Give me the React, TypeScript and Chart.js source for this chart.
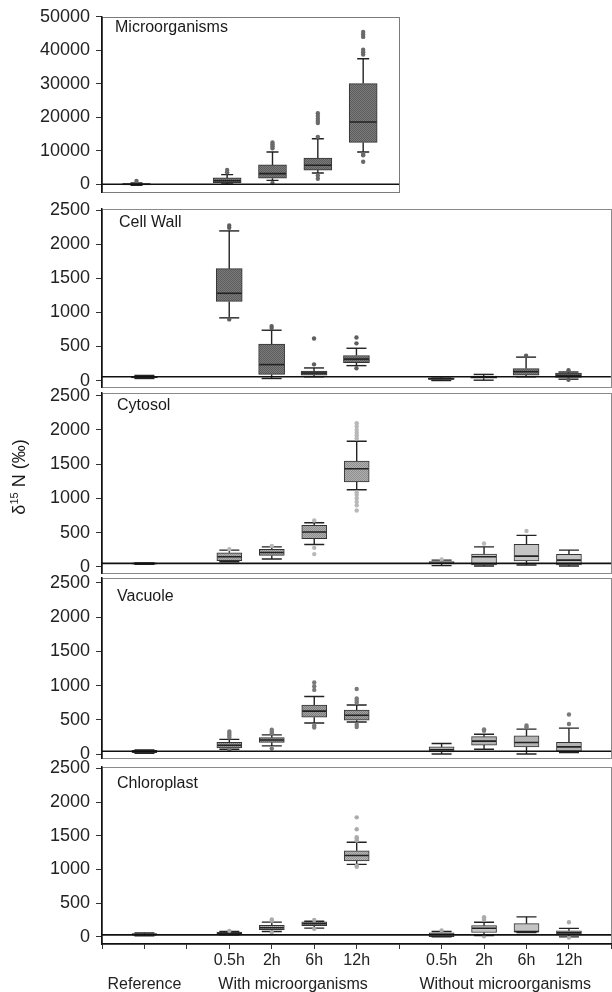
import { useEffect, useRef } from 'react';
import { Chart, registerables } from 'chart.js';

Chart.register(...registerables);

const FONT = '"Liberation Sans", Arial, Helvetica, sans-serif';
Chart.defaults.font.family = FONT;

const CW = 625;
const CH = 992;

// ---------- categories / axis labels ----------
const xTickValues = [0, 1, 2, 3, 4, 5, 6, 7, 8, 9, 10, 11, 12];
const xTickLabels = ['', '', '', '0.5h', '2h', '6h', '12h', '', '0.5h', '2h', '6h', '12h', ''];
const groupLabels = ['Reference', 'With microorganisms', 'Without microorganisms'];
const groupCenters = [1, 4.5, 9.5];
const microPositions = [1, 3, 4, 5, 6];
const cellPositions = [1, 3, 4, 5, 6, 8, 9, 10, 11];
const microTicks = [0, 10000, 20000, 30000, 40000, 50000];
const cellTicks = [0, 500, 1000, 1500, 2000, 2500];

// ---------- Microorganisms ----------
const microLow = [-300, 100, 1160, 3370, 9630];
const microQ1 = [-150, 500, 1830, 4240, 12510];
const microMed = [0, 1070, 3180, 5680, 18600];
const microQ3 = [200, 1900, 5780, 7800, 30060];
const microHigh = [400, 2900, 9630, 13580, 37480];
const microOut = [
  [1000],
  [3560, 4250],
  [10780, 11360, 11940, 12500, 380],
  [14160, 18300, 18900, 19600, 20400, 21200, 2600, 1640],
  [38730, 39400, 40170, 44000, 44700, 45460, 9050, 8670, 6730],
];
const microBase = 0;

// ---------- Cell Wall ----------
const wallLow = [30, 921, 30, 55, 219, 0, 5, 55, 20];
const wallQ1 = [40, 1162, 90, 80, 263, 15, 35, 80, 45];
const wallMed = [50, 1282, 234, 110, 315, 25, 50, 130, 75];
const wallQ3 = [60, 1643, 537, 140, 368, 40, 65, 176, 110];
const wallHigh = [75, 2198, 739, 185, 474, 55, 90, 344, 125];
const wallOut = [[], [2245, 2279, 898], [770, 800], [238, 618], [633, 546, 180], [], [], [364], [150, 10]];
const wallBase = 55;

// ---------- Cytosol ----------
const cytLow = [40, 77, 116, 328, 1127, 20, 14, 29, 14];
const cytQ1 = [45, 91, 169, 415, 1243, 43, 29, 87, 29];
const cytMed = [50, 149, 212, 510, 1435, 55, 149, 159, 100];
const cytQ3 = [55, 207, 256, 607, 1546, 77, 188, 332, 183];
const cytHigh = [60, 246, 293, 646, 1835, 100, 293, 462, 246];
const cytOut = [
  [],
  [260],
  [308],
  [679, 279, 188],
  [1880, 1920, 1960, 2000, 2050, 2100, 1088, 1050, 1000, 950, 900, 824],
  [111],
  [342],
  [525],
  [],
];
const cytBase = 52;

// ---------- Vacuole ----------
const vacLow = [10, 70, 119, 452, 467, 0, 70, 0, 20];
const vacQ1 = [20, 90, 169, 537, 493, 30, 130, 104, 40];
const vacMed = [35, 129, 204, 627, 567, 63, 189, 169, 104];
const vacQ3 = [55, 169, 239, 716, 642, 104, 254, 264, 169];
const vacHigh = [60, 214, 279, 840, 716, 154, 289, 363, 378];
const vacOut = [
  [],
  [243, 270, 300, 328, 60],
  [303, 330, 354, 79],
  [936, 990, 1045, 418, 388],
  [751, 780, 810, 950, 428, 393],
  [],
  [340, 360],
  [390, 418],
  [438, 578],
];
const vacBase = 40;

// ---------- Chloroplast ----------
const chlLow = [15, 30, 80, 131, 1076, 0, 20, 65, 0];
const chlQ1 = [25, 40, 106, 167, 1126, 5, 65, 70, 30];
const chlMed = [35, 55, 137, 195, 1207, 35, 129, 80, 60];
const chlQ3 = [50, 70, 171, 222, 1277, 60, 167, 197, 91];
const chlHigh = [60, 80, 220, 232, 1404, 80, 217, 298, 126];
const chlOut = [
  [],
  [90],
  [240, 260, 70],
  [250, 120],
  [1429, 1455, 1480, 1596, 1773, 1056, 1040],
  [95],
  [258, 292, 10],
  [],
  [217, -10],
];
const chlBase = 30;

type PanelDef = {
  key: string;
  title: string;
  titleX: number;
  titleY: number;
  positions: number[];
  low: number[];
  q1: number[];
  med: number[];
  q3: number[];
  high: number[];
  out: number[][];
  base: number;
  yMin: number;
  yMax: number;
  yTicks: number[];
  xMin: number;
  xMax: number;
  top: number;
  bottom: number;
  right: number;
  withFill: [string, string];
  withoutFill: [string, string];
  outColor: string;
  boxWidth: number;
  capRadius: number;
  showX: boolean;
  frameColor: string;
};

const panels: PanelDef[] = [
  {
    key: 'micro', title: 'Microorganisms', titleX: 115, titleY: 28,
    positions: microPositions, low: microLow, q1: microQ1, med: microMed, q3: microQ3, high: microHigh, out: microOut,
    base: microBase, yMin: -2300, yMax: 50000, yTicks: microTicks, xMin: 0.24, xMax: 6.79,
    top: 11, bottom: 192, right: 399, withFill: ['#5c5c5c', '#7c7c7c'], withoutFill: ['#5c5c5c', '#7c7c7c'],
    outColor: '#6a6a6a', boxWidth: 28, capRadius: 6, showX: false, frameColor: '#7a7a7a',
  },
  {
    key: 'wall', title: 'Cell Wall', titleX: 119, titleY: 223,
    positions: cellPositions, low: wallLow, q1: wallQ1, med: wallMed, q3: wallQ3, high: wallHigh, out: wallOut,
    base: wallBase, yMin: -95, yMax: 2520, yTicks: cellTicks, xMin: 0, xMax: 12,
    top: 209, bottom: 387, right: 613, withFill: ['#5c5c5c', '#7c7c7c'], withoutFill: ['#666666', '#848484'],
    outColor: '#5e5e5e', boxWidth: 26, capRadius: 10, showX: false, frameColor: '#8a8a8a',
  },
  {
    key: 'cyt', title: 'Cytosol', titleX: 117, titleY: 406,
    positions: cellPositions, low: cytLow, q1: cytQ1, med: cytMed, q3: cytQ3, high: cytHigh, out: cytOut,
    base: cytBase, yMin: -88, yMax: 2540, yTicks: cellTicks, xMin: 0, xMax: 12,
    top: 393, bottom: 573, right: 613, withFill: ['#8e8e8e', '#b0b0b0'], withoutFill: ['#c2c2c2', '#c6c6c6'],
    outColor: '#b8b8b8', boxWidth: 25, capRadius: 10, showX: false, frameColor: '#8a8a8a',
  },
  {
    key: 'vac', title: 'Vacuole', titleX: 117, titleY: 597,
    positions: cellPositions, low: vacLow, q1: vacQ1, med: vacMed, q3: vacQ3, high: vacHigh, out: vacOut,
    base: vacBase, yMin: -58, yMax: 2570, yTicks: cellTicks, xMin: 0, xMax: 12,
    top: 578, bottom: 758, right: 613, withFill: ['#7e7e7e', '#a2a2a2'], withoutFill: ['#b0b0b0', '#b6b6b6'],
    outColor: '#7a7a7a', boxWidth: 25, capRadius: 10, showX: false, frameColor: '#8a8a8a',
  },
  {
    key: 'chl', title: 'Chloroplast', titleX: 117, titleY: 784,
    positions: cellPositions, low: chlLow, q1: chlQ1, med: chlMed, q3: chlQ3, high: chlHigh, out: chlOut,
    base: chlBase, yMin: -105, yMax: 2520, yTicks: cellTicks, xMin: 0, xMax: 12,
    top: 767, bottom: 944, right: 613, withFill: ['#959595', '#b8b8b8'], withoutFill: ['#c2c2c2', '#c6c6c6'],
    outColor: '#ababab', boxWidth: 25, capRadius: 10, showX: true, frameColor: '#8a8a8a',
  },
];

function makePattern(c1: string, c2: string): CanvasPattern | string {
  const pc = document.createElement('canvas');
  pc.width = 2;
  pc.height = 2;
  const g = pc.getContext('2d');
  if (!g) return c1;
  g.fillStyle = c2;
  g.fillRect(0, 0, 2, 2);
  g.fillStyle = c1;
  g.fillRect(0, 0, 1, 1);
  g.fillRect(1, 1, 1, 1);
  return g.createPattern(pc, 'repeat') || c1;
}

const panelDeco = {
  id: 'panelDeco',
  beforeDraw(chart: any, _args: any, opts: any) {
    const { ctx, chartArea: a } = chart;
    ctx.save();
    ctx.strokeStyle = opts.frameColor;
    ctx.lineWidth = 1;
    ctx.strokeRect(Math.round(a.left) + 0.5, Math.round(a.top) + 0.5, Math.round(a.right - a.left), Math.round(a.bottom - a.top));
    ctx.restore();
  },
  afterDraw(chart: any, _args: any, opts: any) {
    const { ctx } = chart;
    ctx.save();
    ctx.fillStyle = '#1a1a1a';
    ctx.font = `16px ${FONT}`;
    ctx.textBaseline = 'middle';
    ctx.textAlign = 'left';
    ctx.fillText(opts.title, opts.titleX, opts.titleY);
    ctx.restore();
  },
};

function buildConfig(p: PanelDef): any {
  const withPat = makePattern(p.withFill[0], p.withFill[1]);
  const withoutPat = makePattern(p.withoutFill[0], p.withoutFill[1]);

  const boxData = p.positions.map((x, i) => ({ x, y: [p.q1[i], p.q3[i]] }));
  const boxColors = p.positions.map((x) => (x <= 7 ? withPat : withoutPat));

  const whiskerData: any[] = [];
  p.positions.forEach((x, i) => {
    whiskerData.push({ x, y: p.low[i] }, { x, y: p.q1[i] }, { x, y: null });
    whiskerData.push({ x, y: p.q3[i] }, { x, y: p.high[i] }, { x, y: null });
  });

  const medData = p.positions.map((x, i) => ({ x, y: p.med[i] }));
  const capData: any[] = [];
  p.positions.forEach((x, i) => {
    capData.push({ x, y: p.low[i] }, { x, y: p.high[i] });
  });
  const outData: any[] = [];
  p.positions.forEach((x, i) => {
    p.out[i].forEach((v) => outData.push({ x, y: v }));
  });

  const scales: any = {
    x: {
      type: 'linear',
      min: p.xMin,
      max: p.xMax,
      offset: false,
      display: p.showX,
      position: 'bottom',
      afterBuildTicks: (s: any) => {
        s.ticks = xTickValues.map((v) => ({ value: v }));
      },
      afterFit: (s: any) => {
        s.height = p.showX ? 28 : 0;
      },
      ticks: {
        callback: (_v: any, i: number) => xTickLabels[i] ?? '',
        font: { size: 16, family: FONT },
        color: '#222',
        padding: 2,
        autoSkip: false,
        maxRotation: 0,
        minRotation: 0,
      },
      grid: { drawOnChartArea: false, tickLength: 5, color: '#333', offset: false },
      border: { display: true, color: '#111', width: 1.5 },
    },
    y: {
      type: 'linear',
      min: p.yMin,
      max: p.yMax,
      position: 'left',
      afterBuildTicks: (s: any) => {
        s.ticks = p.yTicks.map((v) => ({ value: v }));
      },
      afterFit: (s: any) => {
        s.width = 102;
      },
      ticks: {
        callback: (v: any) => String(v),
        font: { size: 18, family: FONT },
        color: '#222',
        padding: 6,
      },
      grid: { drawOnChartArea: false, tickLength: 6, color: '#333' },
      border: { display: true, color: '#111', width: 1.5 },
    },
  };
  if (p.showX) {
    scales.x2 = {
      type: 'linear',
      min: p.xMin,
      max: p.xMax,
      offset: false,
      position: 'bottom',
      afterBuildTicks: (s: any) => {
        s.ticks = groupCenters.map((v) => ({ value: v }));
      },
      afterFit: (s: any) => {
        s.height = 20;
      },
      ticks: {
        callback: (_v: any, i: number) => groupLabels[i] ?? '',
        font: { size: 16, family: FONT },
        color: '#222',
        padding: 3,
        autoSkip: false,
        maxRotation: 0,
        minRotation: 0,
      },
      grid: { display: false, drawTicks: false },
      border: { display: false },
    };
  }

  return {
    type: 'bar',
    data: {
      datasets: [
        {
          type: 'line',
          data: [
            { x: p.xMin, y: p.base },
            { x: p.xMax, y: p.base },
          ],
          borderColor: '#111',
          borderWidth: 1.6,
          pointRadius: 0,
          order: 0,
        },
        {
          type: 'scatter',
          data: outData,
          pointStyle: 'circle',
          radius: 2.2,
          backgroundColor: p.outColor,
          borderColor: p.outColor,
          borderWidth: 0,
          order: 1,
        },
        {
          type: 'scatter',
          data: capData,
          pointStyle: 'line',
          radius: p.capRadius,
          borderColor: '#222',
          borderWidth: 1.4,
          order: 2,
        },
        {
          type: 'scatter',
          data: medData,
          pointStyle: 'line',
          radius: p.boxWidth / 2 - 0.5,
          borderColor: '#222',
          borderWidth: 1.6,
          order: 3,
        },
        {
          type: 'bar',
          data: boxData,
          backgroundColor: boxColors,
          borderColor: '#333',
          borderWidth: 1,
          borderSkipped: false,
          barThickness: p.boxWidth,
          grouped: false,
          order: 4,
        },
        {
          type: 'line',
          data: whiskerData,
          borderColor: '#222',
          borderWidth: 1.4,
          pointRadius: 0,
          spanGaps: false,
          tension: 0,
          order: 5,
        },
      ],
    },
    options: {
      responsive: false,
      animation: false,
      events: [],
      layout: {
        padding: {
          top: p.top,
          bottom: CH - p.bottom - (p.showX ? 48 : 0),
          left: 0,
          right: CW - p.right,
        },
      },
      plugins: {
        legend: { display: false },
        tooltip: { enabled: false },
        panelDeco: { title: p.title, titleX: p.titleX, titleY: p.titleY, frameColor: p.frameColor },
      },
      scales,
    },
    plugins: [panelDeco],
  };
}

function PanelCanvas({ panel }: { panel: PanelDef }) {
  const ref = useRef<HTMLCanvasElement | null>(null);
  useEffect(() => {
    if (!ref.current) return;
    const chart = new Chart(ref.current, buildConfig(panel));
    return () => chart.destroy();
  }, [panel]);
  return (
    <canvas
      ref={ref}
      width={CW}
      height={CH}
      style={{ position: 'absolute', left: 0, top: 0, width: CW, height: CH }}
    />
  );
}

export default function App() {
  return (
    <div
      style={{
        position: 'absolute',
        left: 0,
        top: 0,
        width: 612,
        height: 992,
        overflow: 'hidden',
        background: '#ffffff',
      }}
    >
      {panels.map((p) => (
        <PanelCanvas key={p.key} panel={p} />
      ))}
      <div
        style={{
          position: 'absolute',
          left: 19 - 70,
          top: 477 - 12,
          width: 140,
          height: 24,
          lineHeight: '24px',
          textAlign: 'center',
          transform: 'rotate(-90deg)',
          fontFamily: FONT,
          fontSize: 18,
          color: '#1a1a1a',
          whiteSpace: 'nowrap',
        }}
      >
        δ<span style={{ fontSize: 11, position: 'relative', top: -7 }}>15</span> N (‰)
      </div>
    </div>
  );
}
